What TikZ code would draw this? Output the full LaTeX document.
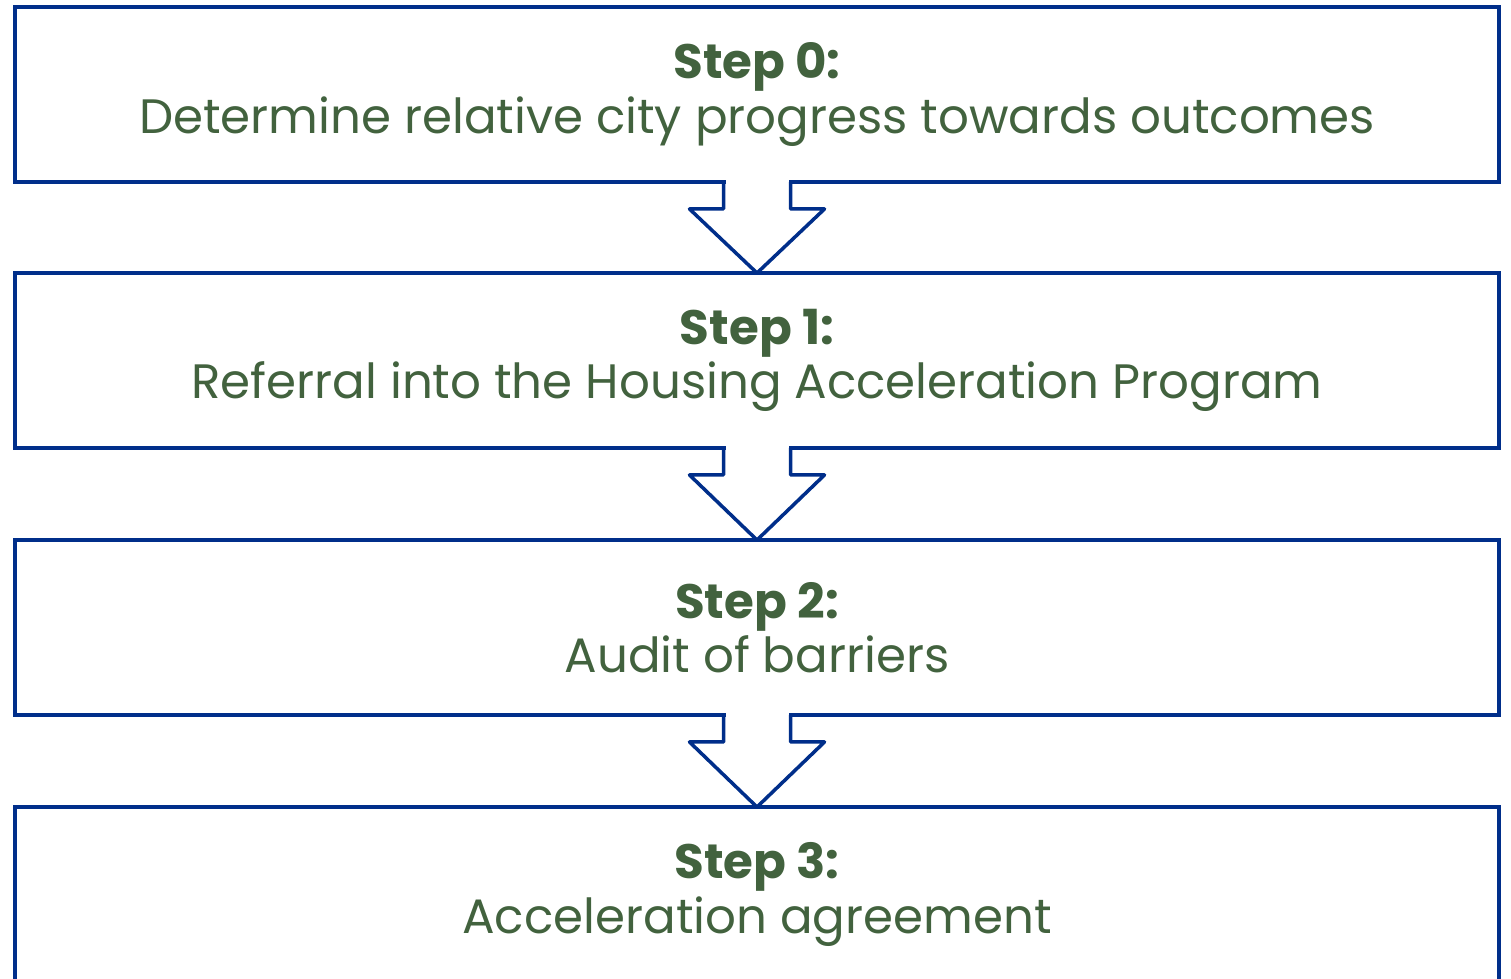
\documentclass[tikz,border=0pt]{standalone}
\usepackage{fontspec}
\setmainfont{Poppins}
\usetikzlibrary{calc,positioning}
\definecolor{stepblue}{RGB}{0,46,138}
\definecolor{stepgreen}{RGB}{66,98,62}

\begin{document}
\begin{tikzpicture}[x=0.02cm,y=-0.02cm,
	stepbox/.style={draw=stepblue,line width=2pt,minimum width=29.68cm,minimum height=3.5cm,inner sep=0pt,outer sep=0pt,align=center,text=stepgreen,font=\fontsize{27.5}{31}\selectfont},
	downarrow/.style={draw=stepblue,line width=2pt,line join=round}]
	\useasboundingbox (0,0) rectangle (1511,979);
	\node [stepbox] (s0) at (757,94.5) {\textbf{Step 0:}\\Determine relative city progress towards outcomes};
	\node [stepbox] (s1) at (757,360.5) {\textbf{Step 1:}\\Referral into the Housing Acceleration Program};
	\node [stepbox] (s2) at (757,627.5) {\textbf{Step 2:}\\Audit of barriers};
	\node [stepbox] (s3) at (757,894.5) {\textbf{Step 3:}\\Acceleration agreement};
	\fill[white] ($(s0.south)+(-31.5,-3)$) rectangle ($(s0.south)+(31.5,3)$);
	\draw[downarrow] ($(s0.south)+(-33.5,0)$) -- ++(0,27) -- ++(-34,0) -- (s1.north) -- ($(s0.south)+(67.5,27)$) -- ++(-34,0) -- ($(s0.south)+(33.5,0)$);
	\fill[white] ($(s1.south)+(-31.5,-3)$) rectangle ($(s1.south)+(31.5,3)$);
	\draw[downarrow] ($(s1.south)+(-33.5,0)$) -- ++(0,27) -- ++(-34,0) -- (s2.north) -- ($(s1.south)+(67.5,27)$) -- ++(-34,0) -- ($(s1.south)+(33.5,0)$);
	\fill[white] ($(s2.south)+(-31.5,-3)$) rectangle ($(s2.south)+(31.5,3)$);
	\draw[downarrow] ($(s2.south)+(-33.5,0)$) -- ++(0,27) -- ++(-34,0) -- (s3.north) -- ($(s2.south)+(67.5,27)$) -- ++(-34,0) -- ($(s2.south)+(33.5,0)$);
\end{tikzpicture}
\end{document}
